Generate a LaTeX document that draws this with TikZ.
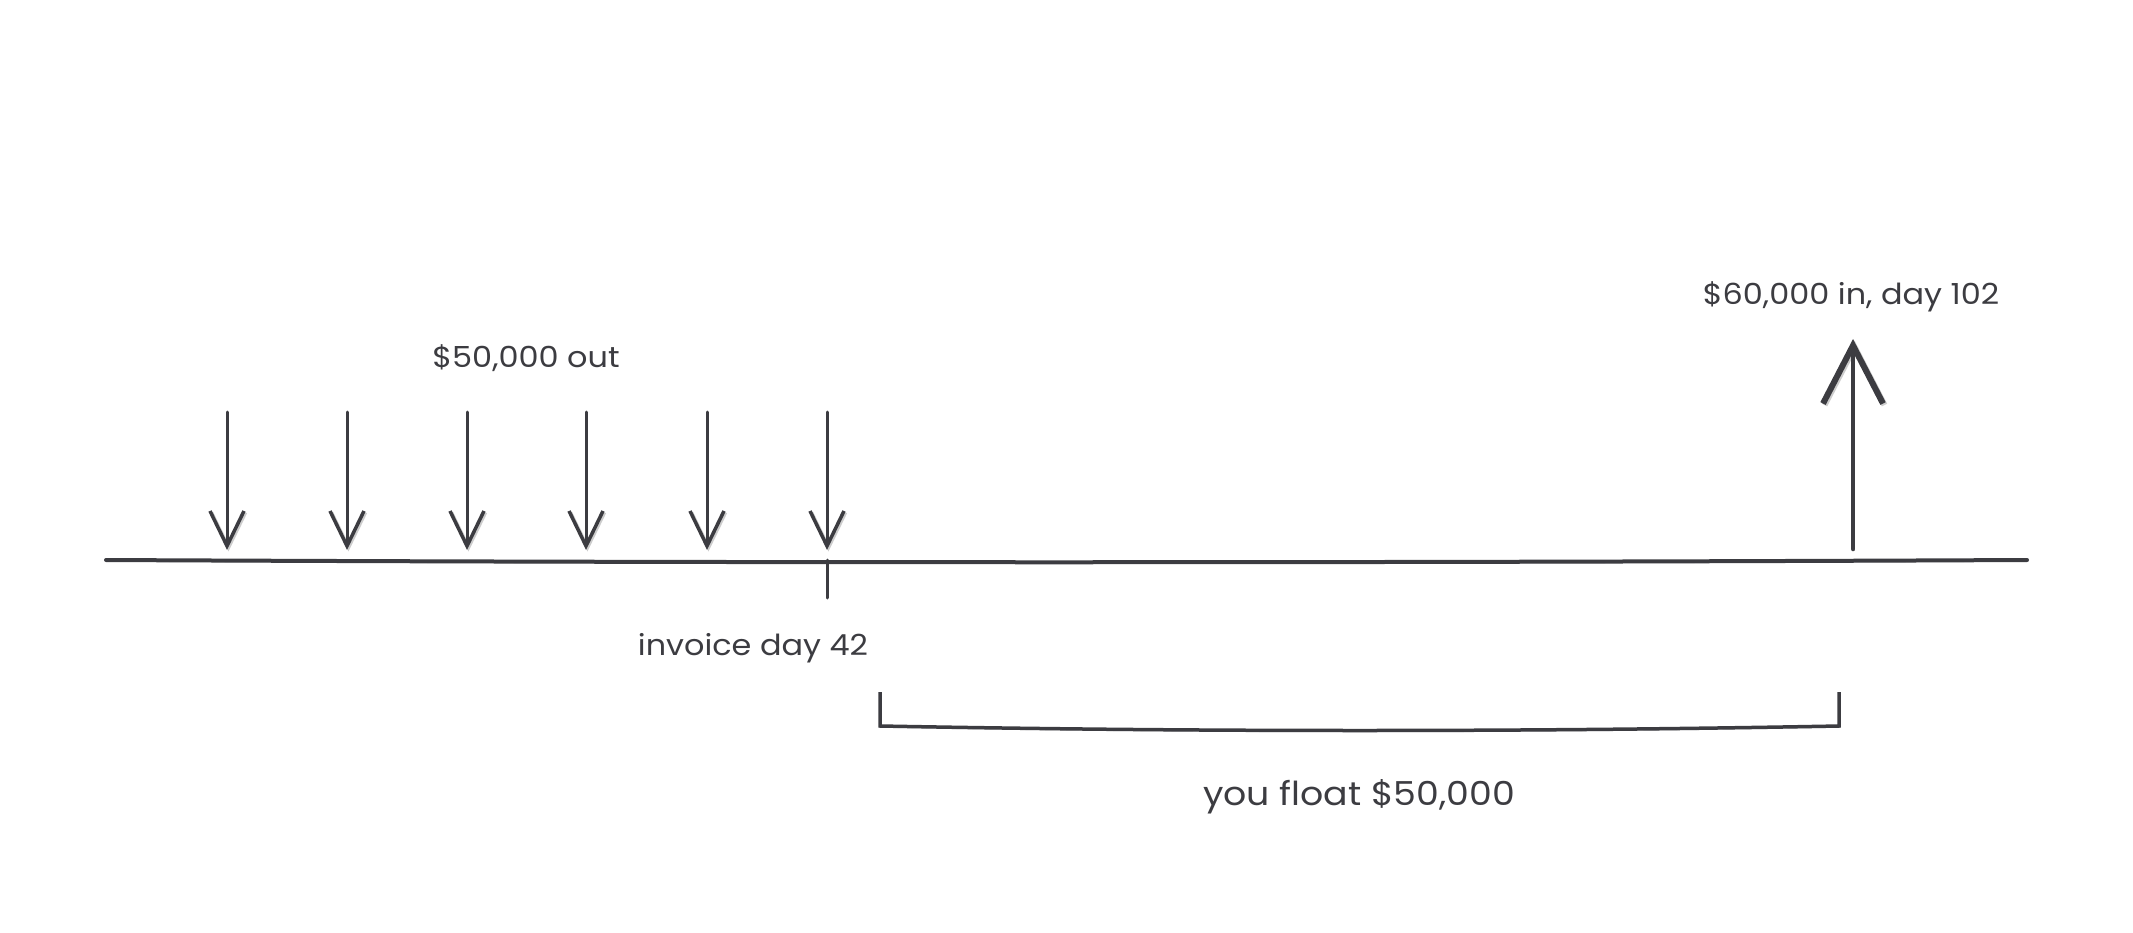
\documentclass[tikz,border=0pt]{standalone}
\usepackage{fontspec}
\setmainfont{Poppins}
\usetikzlibrary{arrows.meta}
\definecolor{ink}{HTML}{3C3C41}
\definecolor{shade}{HTML}{CDCDCD}
\begin{document}
\begin{tikzpicture}[x=1pt,y=-1pt,
  lbl/.style={text=ink, font=\fontsize{29}{34}\selectfont, anchor=base, inner sep=0pt, xscale=1.1},
  biglbl/.style={lbl, font=\fontsize{33}{38}\selectfont},
  shadowed/.style={preaction={draw=shade, transform canvas={shift={(1.5pt,-1.5pt)}}}},
  axisline/.style={draw=ink, line width=4pt, line cap=round, shadowed},
  tickline/.style={draw=ink, line width=3pt, line cap=round},
  outarrow/.style={draw=ink, line width=3pt, line cap=round, shadowed,
    -{Straight Barb[length=35pt,width=34pt,line width=3.5pt]}},
  inarrow/.style={draw=ink, line width=4.5pt, line cap=round, shadowed,
    -{Straight Barb[length=58pt,width=60pt,line width=6pt]}},
  bracketline/.style={draw=ink, line width=3.5pt, line join=miter, shadowed}
]
\useasboundingbox (0,0) rectangle (2133,933);

% timeline
\coordinate (tlL) at (106,560);
\coordinate (tlR) at (2027,560);
\draw[axisline] (tlL) .. controls (700,563) and (1400,563) .. (tlR);

% outgoing payments
\foreach \i/\x in {1/227,2/347,3/467,4/586,5/707,6/827}{
  \coordinate (o\i top) at (\x,412);
  \coordinate (o\i tip) at (\x,550);
  \draw[outarrow] (o\i top) -- (o\i tip);
}

% invoice tick
\coordinate (tickA) at (827,560);
\coordinate (tickB) at (827,598);
\draw[tickline] (tickA) -- (tickB);

% incoming payment
\coordinate (inBot) at (1853,549);
\coordinate (inTip) at (1853,339);
\draw[inarrow] (inBot) -- (inTip);

% float bracket
\coordinate (brLt) at (880,692);
\coordinate (brLb) at (880,726);
\coordinate (brRt) at (1839,692);
\coordinate (brRb) at (1839,726);
\draw[bracketline] (brLt) -- (brLb) .. controls (1200,732) and (1520,732) .. (brRb) -- (brRt);

% labels
\node[lbl] (outlbl) at (526,367) {\$50,000 out};
\node[lbl] (inlbl) at (1851,305) {\$60,000 in, day 102};
\node[lbl] (invlbl) at (753,655) {invoice day 42};
\node[biglbl] (floatlbl) at (1359,805) {you float \$50,000};
\end{tikzpicture}
\end{document}
